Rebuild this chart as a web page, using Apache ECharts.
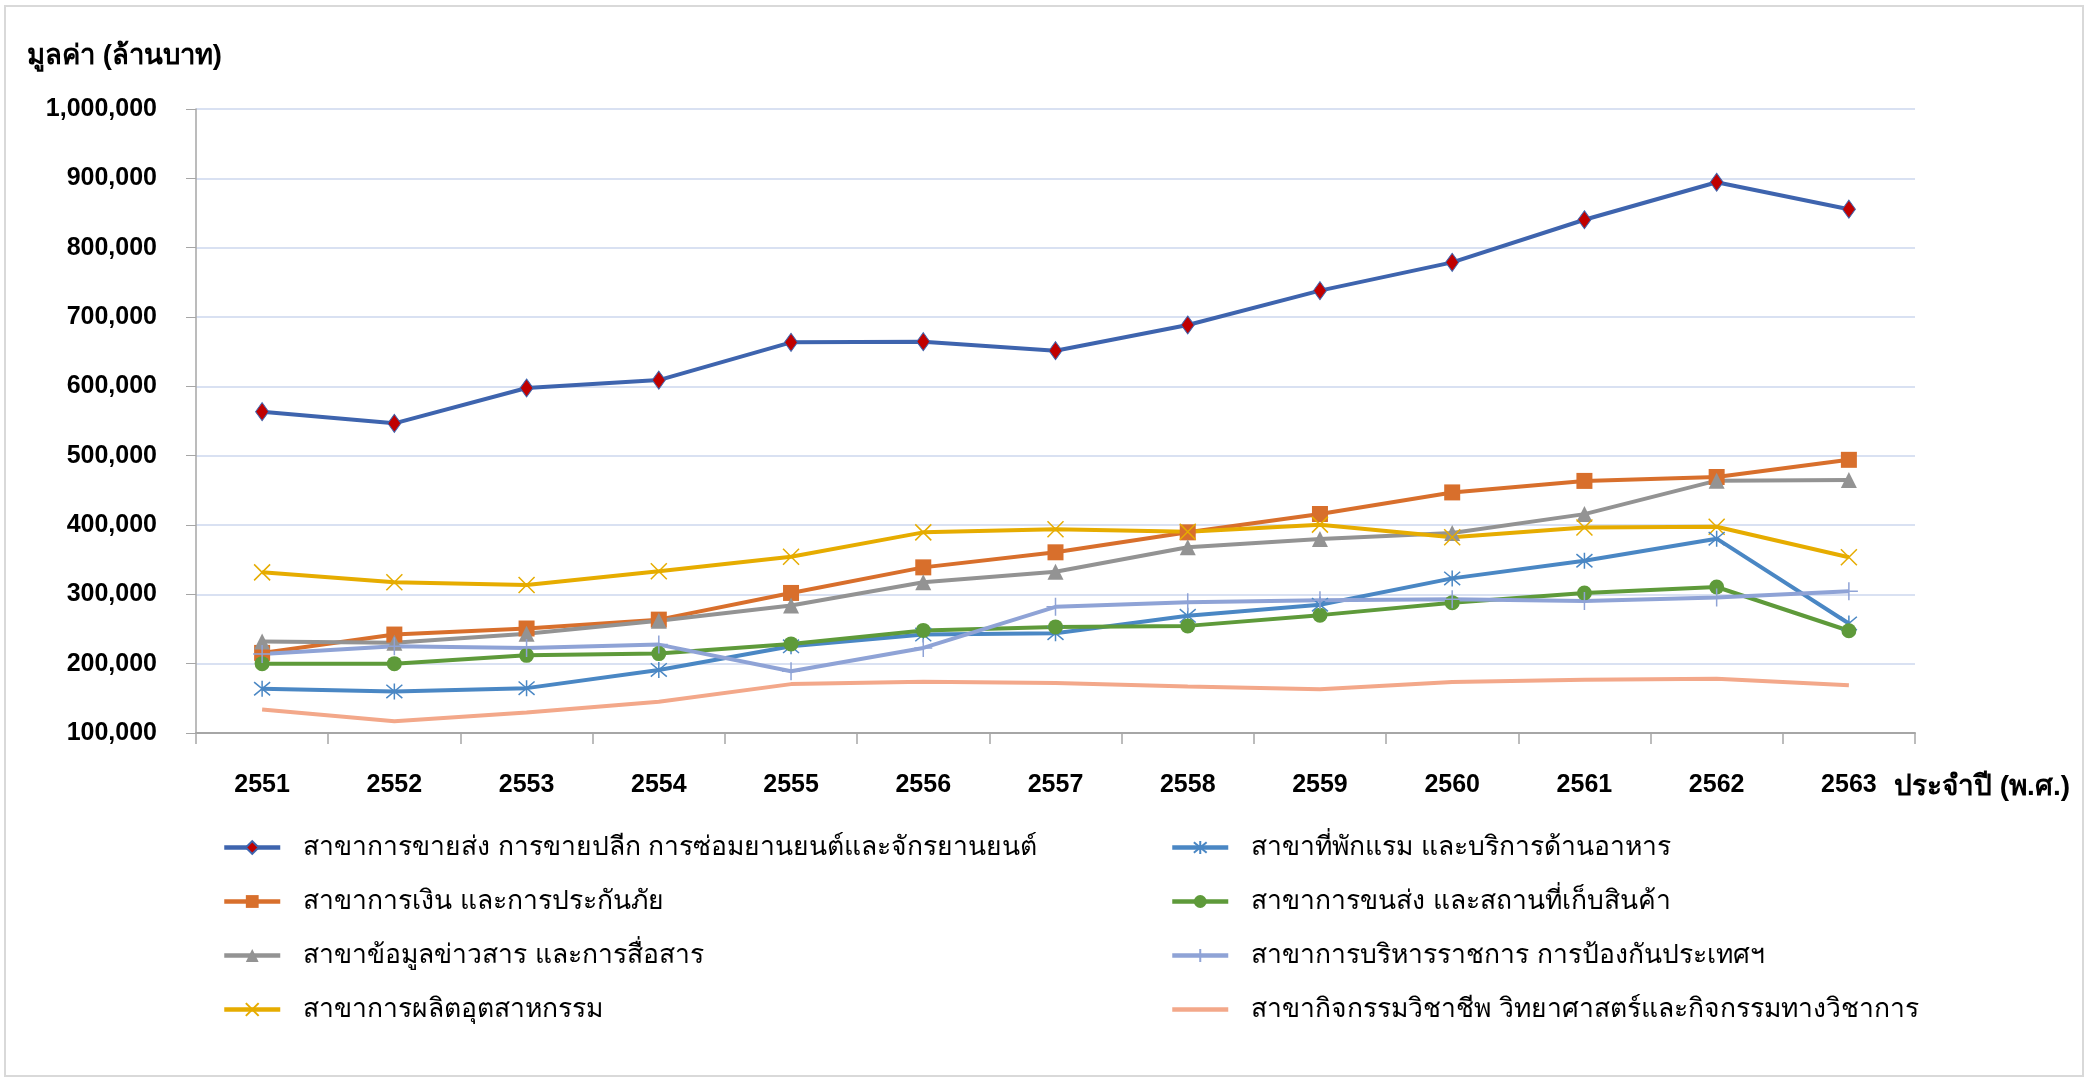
<!DOCTYPE html>
<html>
<head>
<meta charset="utf-8">
<script src="https://cdn.jsdelivr.net/npm/echarts@6/dist/echarts.min.js"></script>
<style>
html,body{margin:0;padding:0;background:#fff;}
#c{width:2087px;height:1078px;}
</style>
</head>
<body>
<div id="c"></div>
<script>
const years = ['2551','2552','2553','2554','2555','2556','2557','2558','2559','2560','2561','2562','2563'];
const yTicks = { min: 100000, max: 1000000, step: 100000 };

const wholesale = [563500, 546600, 597600, 609000, 663500, 664400, 651400, 688500, 738000, 778800, 840300, 894400, 855500];
const finance = [215500, 242000, 250700, 263500, 302000, 338900, 360600, 389400, 415900, 447000, 463600, 469200, 494000];
const infoComm = [232000, 230000, 243000, 262000, 284000, 317300, 332700, 367800, 379800, 388500, 415700, 464000, 465000];
const manufacturing = [331700, 317300, 313500, 333200, 354300, 389400, 394000, 390400, 400500, 382200, 396500, 397500, 353500];
const accommodation = [163800, 160000, 164700, 191000, 225000, 242000, 244000, 269000, 285000, 323000, 348400, 380300, 258000];
const transport = [200000, 200000, 212000, 214500, 228500, 248000, 253000, 254500, 270000, 288000, 302000, 310600, 247500];
const publicAdmin = [214000, 225000, 222700, 227500, 189000, 222700, 282000, 288500, 291500, 293000, 290400, 295400, 304500];
const professional = [134000, 117000, 129500, 145000, 170500, 174000, 172000, 167000, 163000, 173400, 176700, 178200, 169000];

const names = [
  'สาขาการขายส่ง การขายปลีก การซ่อมยานยนต์และจักรยานยนต์',
  'สาขาการเงิน และการประกันภัย',
  'สาขาข้อมูลข่าวสาร และการสื่อสาร',
  'สาขาการผลิตอุตสาหกรรม',
  'สาขาที่พักแรม และบริการด้านอาหาร',
  'สาขาการขนส่ง และสถานที่เก็บสินค้า',
  'สาขาการบริหารราชการ การป้องกันประเทศฯ',
  'สาขากิจกรรมวิชาชีพ วิทยาศาสตร์และกิจกรรมทางวิชาการ'
];

const FONT = 'Liberation Sans, Arial, Noto Sans, DejaVu Sans, sans-serif';

function mk(name, data, color, symbol, size, extra) {
  return Object.assign({
    name: name, type: 'line', data: data,
    symbol: symbol, symbolSize: size, showSymbol: symbol !== 'none',
    lineStyle: { color: color, width: 4 },
    itemStyle: { color: color },
    emphasis: { disabled: true },
    animation: false, z: 3
  }, extra || {});
}

const X_PATH = 'path://M0,0L10,10M10,0L0,10';
const AST_PATH = 'path://M0,0L10,10M10,0L0,10M5,-1L5,11';
const PLUS_PATH = 'path://M5,0L5,12M2,6L8,6';

const series = [
  mk(names[0], wholesale, '#3E64AE', 'diamond', [13, 18], { itemStyle: { color: '#C00000', borderColor: '#3E64AE', borderWidth: 1 }, z: 10 }),
  mk(names[1], finance, '#D86F2C', 'rect', 16),
  mk(names[2], infoComm, '#939393', 'triangle', 16),
  mk(names[3], manufacturing, '#E6AC00', X_PATH, 16, { itemStyle: { color: '#E6AC00', borderColor: '#E6AC00', borderWidth: 1.5 } }),
  mk(names[4], accommodation, '#4A87C4', AST_PATH, 16, { itemStyle: { color: '#4A87C4', borderColor: '#4A87C4', borderWidth: 1.5 } }),
  mk(names[5], transport, '#5E9A3A', 'circle', 15),
  mk(names[6], publicAdmin, '#8FA3D6', PLUS_PATH, 18, { itemStyle: { color: '#8FA3D6', borderColor: '#8FA3D6', borderWidth: 1.5 } }),
  mk(names[7], professional, '#F3A88A', 'none', 0)
];

function legendData(list) {
  return list.map(n => n === names[7] ? { name: n, itemStyle: { opacity: 0 } } : { name: n });
}

const legendCommon = {
  orient: 'vertical', itemWidth: 56, itemHeight: 16, itemGap: 27,
  lineStyle: { width: 4.5 },
  textStyle: { fontFamily: FONT, fontSize: 26.5, color: '#000', padding: [0, 0, 0, 18] },
  selectedMode: false
};

const chart = echarts.init(document.getElementById('c'), null, { renderer: 'canvas' });
chart.setOption({
  backgroundColor: '#fff',
  animation: false,
  title: [
    { text: 'มูลค่า (ล้านบาท)', left: 22, top: 37, textStyle: { fontFamily: FONT, fontSize: 27.5, fontWeight: 'bold', color: '#000' } },
    { text: 'ประจำปี (พ.ศ.)', left: 1889, top: 768, textStyle: { fontFamily: FONT, fontSize: 28, fontWeight: 'bold', color: '#000' } }
  ],
  graphic: [
    { type: 'rect', shape: { x: 5, y: 6, width: 2078, height: 1070 }, style: { fill: 'none', stroke: '#D9D9D9', lineWidth: 2 }, silent: true }
  ],
  grid: { left: 196, right: 2087 - 1915, top: 109, bottom: 1078 - 733, containLabel: false },
  xAxis: {
    type: 'category', data: years, boundaryGap: true,
    axisLine: { lineStyle: { color: '#A6A6A6', width: 2 } },
    axisTick: { show: true, length: 11, lineStyle: { color: '#A6A6A6', width: 1.5 } },
    axisLabel: { margin: 40, fontFamily: FONT, fontSize: 25, fontWeight: 'bold', color: '#000' },
    splitLine: { show: false }
  },
  yAxis: {
    type: 'value', min: yTicks.min, max: yTicks.max, interval: yTicks.step,
    axisLine: { show: true, lineStyle: { color: '#A6A6A6', width: 1.5 } },
    axisTick: { show: true, length: 10, lineStyle: { color: '#A6A6A6' } },
    axisLabel: { margin: 39, fontFamily: FONT, fontSize: 25, fontWeight: 'bold', color: '#000',
      formatter: v => v.toLocaleString('en-US') },
    splitLine: { lineStyle: { color: '#D9E1F2', width: 2 } }
  },
  legend: [
    Object.assign({}, legendCommon, { left: 217, top: 829, data: legendData(names.slice(0, 4)) }),
    Object.assign({}, legendCommon, { left: 1165, top: 829, data: legendData(names.slice(4, 8)) })
  ],
  series: series
});
</script>
</body>
</html>
